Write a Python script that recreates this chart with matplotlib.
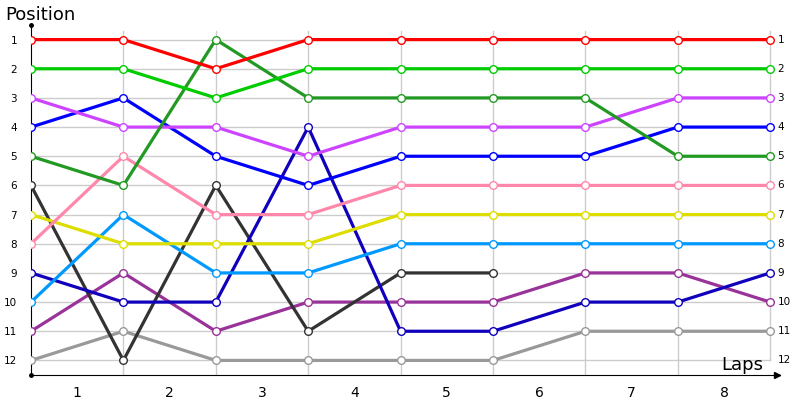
import numpy as np
import matplotlib
matplotlib.use('Agg')
import matplotlib.pyplot as plt

laps = ['1', '2', '3', '4', '5', '6', '7', '8']
points = list(range(9))
positions = list(range(1, 13))

red = [1, 1, 2, 1, 1, 1, 1, 1, 1]
green = [2, 2, 3, 2, 2, 2, 2, 2, 2]
dark_green = [5, 6, 1, 3, 3, 3, 3, 5, 5]
violet = [3, 4, 4, 5, 4, 4, 4, 3, 3]
blue = [4, 3, 5, 6, 5, 5, 5, 4, 4]
pink = [8, 5, 7, 7, 6, 6, 6, 6, 6]
yellow = [7, 8, 8, 8, 7, 7, 7, 7, 7]
light_blue = [10, 7, 9, 9, 8, 8, 8, 8, 8]
navy = [9, 10, 10, 4, 11, 11, 10, 10, 9]
dark_gray = [6, 12, 6, 11, 9, 9]
purple = [11, 9, 11, 10, 10, 10, 9, 9, 10]
gray = [12, 11, 12, 12, 12, 12, 11, 11, 11]

series = [
    (gray, '#999999'),
    (purple, '#993399'),
    (dark_gray, '#333333'),
    (navy, '#1100bb'),
    (light_blue, '#0099ff'),
    (yellow, '#dddd00'),
    (pink, '#ff88aa'),
    (blue, '#0000ff'),
    (violet, '#cc44ff'),
    (dark_green, '#229922'),
    (green, '#00cc00'),
    (red, '#ff0000'),
]

fig = plt.figure(figsize=(8, 4), dpi=100)
ax = fig.add_axes([31 / 800, 25 / 400, 749 / 800, 350 / 400])
ax.set_xlim(0, 749 / 92.4)
ax.set_ylim(12.5, 0.5)

# grid
for x in points[1:]:
    ax.plot([x, x], [0.72, 12.5 if x < 8 else 12], color='#cccccc', lw=1, zorder=1)
for y in positions:
    ax.plot([0, 8], [y, y], color='#cccccc', lw=1, zorder=1)

for vals, c in series:
    ax.plot(points[:len(vals)], vals, color=c, lw=2.3, marker='o', ms=5.5,
            mfc='white', mec=c, mew=1, zorder=3)

for spine in ['top', 'right']:
    ax.spines[spine].set_visible(False)
ax.spines['left'].set_color('black')
ax.spines['bottom'].set_color('black')

ax.set_xticks([i + 0.5 for i in range(8)])
ax.set_xticklabels(laps, fontsize=10)
ax.tick_params(axis='x', length=0, pad=8)
ax.set_yticks(positions)
ax.set_yticklabels(positions, fontsize=7.5)
ax.tick_params(axis='y', length=0, pad=10)

for p in positions:
    ax.text(8.08, p, str(p), fontsize=7.5, va='center', ha='left')

# axis end decorations
ax.plot([0], [0.5], marker='o', ms=2.5, color='black', clip_on=False, zorder=5)
ax.plot([0], [12.5], marker='o', ms=2.5, color='black', clip_on=False, zorder=5)
ax.plot([749 / 92.4 - 0.03], [12.5], marker='>', ms=4.5, color='black', clip_on=False, zorder=5)

fig.text(5 / 800, 1 - 15 / 400, 'Position', fontsize=13, va='center', ha='left')
fig.text(742 / 800, 1 - 365 / 400, 'Laps', fontsize=13, va='center', ha='center')

fig.savefig('out.png', dpi=100)
